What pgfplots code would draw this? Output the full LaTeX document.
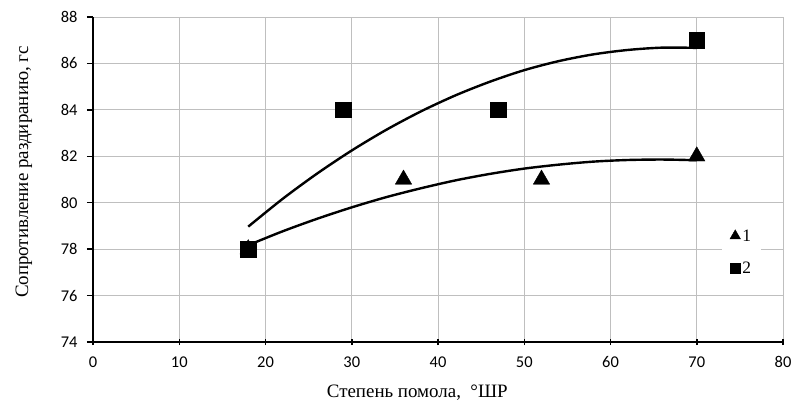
\documentclass[border=0pt]{standalone}
\usepackage{fontspec}
\setmainfont{Liberation Serif}
\newfontfamily\calibri{Carlito}
\usepackage{pgfplots}
\pgfplotsset{compat=1.18}
\begin{document}
\begin{tikzpicture}[x=1bp,y=1bp]
\begin{axis}[
  at={(0,0)}, anchor=south west,
  scale only axis, width=690bp, height=325bp,
  xmin=0, xmax=80, ymin=74, ymax=88,
  xtick={0,10,...,80}, ytick={74,76,...,88},
  axis x line=bottom, axis y line=left,
  axis line style={-, line width=2bp, black},
  grid=major, grid style={gray!50, line width=0.9bp},
  major tick length=6bp,
  x tick style={black, line width=1.5bp},
  y tick style={black, line width=1.5bp},
  xtick align=center, ytick align=outside,
  /pgf/number format/assume math mode=true,
  ticklabel style={font=\calibri\fontsize{16.5}{18}\selectfont},
  xticklabel style={yshift=-8bp},
  yticklabel style={xshift=-6bp},
  xlabel={Степень помола,\ \ °ШР},
  ylabel={Сопротивление раздиранию, гс},
  label style={font=\fontsize{19}{21}\selectfont},
  xlabel style={at={(axis description cs:0.47,-0.157)}, anchor=center},
  ylabel style={at={(axis description cs:-0.1,0.523)}, anchor=center},
  legend style={at={(axis description cs:0.94,0.275)}, anchor=center, draw=none, fill=white,
    font=\fontsize{17.5}{19}\selectfont, row sep=15bp, inner xsep=8bp,
    nodes={inner xsep=2bp}},
  legend cell align=left,
  clip=false,
]
% fitted trend lines (quadratic trendlines as drawn)
\addplot[black, line width=2.4bp, smooth, forget plot] coordinates {
 (18,78.17) (22,78.77) (26,79.31) (30,79.80) (34,80.24) (38,80.62) (42,80.96)
 (46,81.24) (50,81.47) (54,81.64) (58,81.77) (62,81.84) (66,81.86) (70,81.83)};
\addplot[black, line width=2.4bp, smooth, forget plot] coordinates {
 (18,78.97) (22,80.17) (26,81.26) (30,82.25) (34,83.14) (38,83.93) (42,84.62)
 (46,85.21) (50,85.71) (54,86.10) (58,86.39) (62,86.58) (66,86.68) (70,86.67)};
% data
\addplot[only marks, mark=triangle*, mark size=9.5bp, black, forget plot] coordinates {
 (18,78) (36,81) (52,81) (70,82)};
\addplot[only marks, mark=square*, mark size=7.8bp, black, forget plot] coordinates {
 (18,78) (29,84) (47,84) (70,87)};
\addlegendimage{legend image code/.code={\draw[black, mark=triangle*, mark size=6bp] plot coordinates {(0,0.8bp)};}}
\addlegendentry{1}
\addlegendimage{legend image code/.code={\draw[black, mark=square*, mark size=5bp] plot coordinates {(0,0)};}}
\addlegendentry{2}
\end{axis}
\pgfresetboundingbox
\path[use as bounding box] (-93,-64) rectangle (701,342);
\end{tikzpicture}
\end{document}
